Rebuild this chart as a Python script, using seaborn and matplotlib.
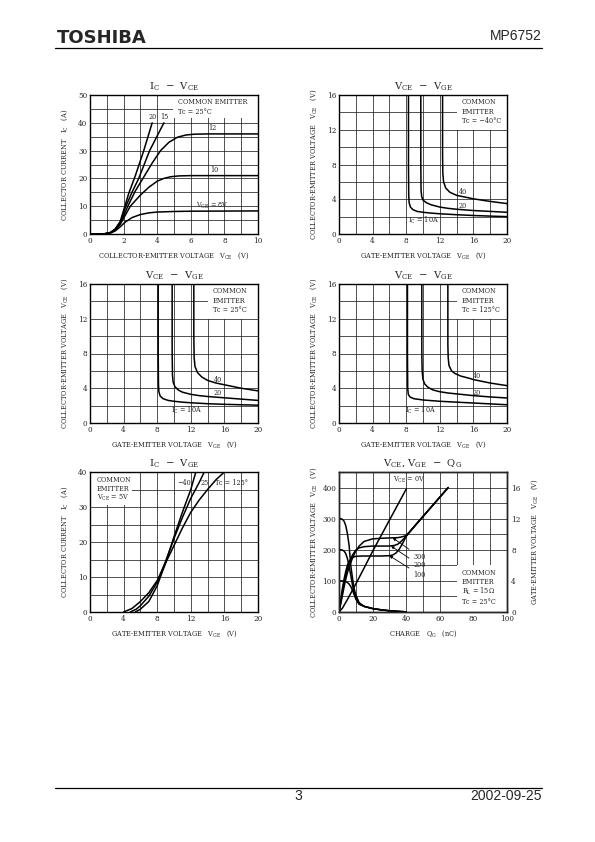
import numpy as np
import pandas as pd
import matplotlib
matplotlib.use('Agg')
import matplotlib.pyplot as plt
import seaborn as sns
from matplotlib.patches import Rectangle
from matplotlib.lines import Line2D

sns.set_style('white')
plt.rcParams['font.family'] = ['DejaVu Serif']
plt.rcParams['mathtext.default'] = 'regular'

# ---- IC - VCE (Tc=25C), one curve per VGE
vce_20 = [0, 0.8, 1.2, 1.5, 1.8, 2.0, 2.3, 2.7, 3.2, 3.7]
ic_20 = [0, 0, 0.5, 1.8, 4.5, 8.5, 14.5, 21, 30, 40]
vce_15 = [0, 0.8, 1.2, 1.5, 1.8, 2.1, 2.5, 2.9, 3.55, 4.4]
ic_15 = [0, 0, 0.5, 1.7, 4.2, 9.5, 15, 20, 30, 40]
vce_12 = [0, 0.8, 1.2, 1.5, 1.8, 2.25, 2.7, 3.2, 3.7, 4.2, 4.7, 5.2, 5.7, 6.2, 7, 8, 10]
ic_12 = [0, 0, 0.4, 1.5, 3.8, 10, 15.5, 20.5, 25.5, 30, 33, 34.8, 35.6, 35.9, 36, 36, 36]
vce_10 = [0, 0.8, 1.2, 1.5, 1.8, 2.4, 3, 3.5, 4, 4.4, 4.8, 5.3, 6, 7, 10]
ic_10 = [0, 0, 0.4, 1.4, 3.5, 10, 14, 16.8, 19, 20, 20.6, 20.9, 21, 21, 21]
vce_8 = [0, 0.8, 1.2, 1.5, 1.8, 2.1, 2.5, 3, 3.5, 4, 5, 6, 10]
ic_8 = [0, 0, 0.3, 1.1, 2.6, 4.3, 5.9, 7.0, 7.6, 7.9, 8.1, 8.2, 8.3]

# ---- VCE - VGE, Tc = -40C
m40_x10 = [8.27, 8.27, 8.3, 8.35, 8.5, 8.8, 9.3, 10, 11, 12, 14, 16, 18, 20]
m40_y10 = [16, 8, 4.5, 3.6, 3.1, 2.8, 2.6, 2.5, 2.4, 2.33, 2.22, 2.13, 2.06, 2.0]
m40_x20 = [9.74, 9.74, 9.77, 9.85, 10, 10.4, 11, 12, 13, 14, 16, 18, 20]
m40_y20 = [16, 8, 5, 4.3, 3.9, 3.6, 3.35, 3.1, 2.95, 2.85, 2.7, 2.6, 2.5]
m40_x40 = [12.33, 12.33, 12.36, 12.45, 12.7, 13.2, 14, 15, 16, 18, 20]
m40_y40 = [16, 9, 7, 6, 5.3, 4.8, 4.45, 4.25, 4.05, 3.75, 3.5]

# ---- VCE - VGE, Tc = 25C
r25_x10 = [8.12, 8.12, 8.15, 8.2, 8.35, 8.7, 9.3, 10, 11, 12, 14, 16, 18, 20]
r25_y10 = [16, 8, 4.5, 3.6, 3.1, 2.8, 2.6, 2.5, 2.4, 2.33, 2.22, 2.15, 2.1, 2.05]
r25_x20 = [9.78, 9.78, 9.82, 9.9, 10.1, 10.5, 11, 12, 13, 14, 16, 18, 20]
r25_y20 = [16, 8, 5.5, 4.7, 4.2, 3.8, 3.55, 3.3, 3.15, 3.05, 2.9, 2.75, 2.6]
r25_x40 = [12.36, 12.36, 12.4, 12.5, 12.8, 13.3, 14, 15, 16, 18, 20]
r25_y40 = [16, 10, 7.5, 6.5, 5.8, 5.3, 4.9, 4.6, 4.4, 4.0, 3.7]

# ---- VCE - VGE, Tc = 125C
h125_x10 = [8.15, 8.15, 8.18, 8.25, 8.45, 8.9, 10, 12, 14, 16, 18, 20]
h125_y10 = [16, 8, 4, 3.3, 3.0, 2.8, 2.65, 2.5, 2.4, 2.3, 2.2, 2.1]
h125_x20 = [9.86, 9.86, 9.9, 10, 10.2, 10.6, 11.2, 12, 13, 14, 16, 18, 20]
h125_y20 = [16, 8, 6, 5, 4.5, 4.1, 3.8, 3.6, 3.45, 3.35, 3.15, 3.0, 2.88]
h125_x40 = [12.96, 12.96, 13.0, 13.1, 13.4, 13.8, 14.5, 15.5, 16, 18, 20]
h125_y40 = [16, 9, 7.5, 6.6, 6.0, 5.7, 5.4, 5.15, 5.0, 4.6, 4.3]

# ---- IC - VGE (VCE=5V)
vge_m40 = [5.4, 6, 7, 8, 9, 10, 11, 12, 12.6]
ic_m40 = [0, 0.8, 3, 7.5, 14, 21.5, 28.5, 35, 40]
vge_25 = [4.8, 5.5, 6, 7, 8, 9, 10, 11, 12, 13, 13.6]
ic_25 = [0, 0.8, 1.8, 4.5, 8.5, 14.5, 21, 27, 32.5, 37, 40]
vge_125 = [4, 5, 6, 7, 8, 9, 10, 11, 12, 13, 14, 15, 16]
ic_125 = [0, 1, 3, 5.5, 9, 14, 19, 24, 28.5, 32, 35, 37.8, 40]

# ---- VCE, VGE - QG (VGE given in left-axis units, 25 per volt)
qg_v0 = [0, 2, 5, 10, 15, 20, 25, 30, 35, 40]
vge_v0 = [0, 12, 40, 90, 142, 195, 245, 295, 345, 395]
qg_g100 = [0, 1, 2, 3, 4, 5, 6, 8, 10, 14, 20, 25, 30, 32, 34, 36, 38, 40, 42, 45, 50, 55, 60, 65]
vge_g100 = [0, 38, 75, 105, 130, 150, 163, 175, 179, 180, 180, 180, 181, 183, 190, 203, 222, 243, 257, 276, 307, 338, 369, 400]
qg_g200 = [0, 1, 2, 3, 4, 5, 6, 8, 10, 12, 15, 20, 25, 30, 33, 35, 37, 39, 40, 42, 45, 50, 55, 60, 65]
vge_g200 = [0, 30, 62, 92, 118, 140, 157, 183, 199, 206, 210, 212, 212, 212, 214, 218, 227, 238, 245, 257, 276, 307, 338, 369, 400]
qg_g300 = [0, 1, 2, 3, 4, 5, 6, 8, 10, 12, 15, 20, 25, 30, 35, 37, 39, 40, 42, 45, 50, 55, 60, 65]
vge_g300 = [0, 25, 52, 80, 105, 126, 144, 173, 196, 212, 227, 235, 237, 238, 239, 241, 244, 247, 257, 276, 307, 338, 369, 400]
qg_c300 = [0, 1, 2, 3, 4, 5, 6, 7, 8, 9, 10, 12, 15, 20, 25, 30, 35, 40]
vce_c300 = [300, 300, 298, 292, 278, 252, 215, 150, 110, 75, 55, 30, 18, 11, 7, 4, 2, 0.5]
qg_c200 = [0, 1, 2, 3, 4, 5, 6, 7, 8, 9, 10, 12, 15, 20, 25, 30, 35, 40]
vce_c200 = [200, 200, 199, 196, 188, 172, 148, 118, 88, 62, 44, 26, 18, 11, 7, 4, 2, 0.5]
qg_c100 = [0, 2, 4, 5, 6, 7, 8, 9, 10, 11, 12, 14, 15, 20, 25, 30, 35, 40]
vce_c100 = [100, 100, 98, 95, 90, 82, 70, 56, 42, 32, 25, 20, 18, 11, 7, 4, 2, 0.5]

fig = plt.figure(figsize=(5.95, 8.42), dpi=100)


def px_axes(l, t, r, b):
    return fig.add_axes([l / 595, 1 - b / 842, (r - l) / 595, (b - t) / 842])


def style(ax, xmax, xmaj, xmin, ymax, ymaj, ymin):
    ax.set_xlim(0, xmax)
    ax.set_ylim(0, ymax)
    ax.set_xticks(np.arange(0, xmax + 0.01, xmaj))
    ax.set_xticks(np.arange(0, xmax + 0.01, xmin), minor=True)
    ax.set_yticks(np.arange(0, ymax + 0.01, ymaj))
    ax.set_yticks(np.arange(0, ymax + 0.01, ymin), minor=True)
    ax.grid(which='both', color='#222222', lw=0.55)
    ax.set_axisbelow(True)
    ax.tick_params(which='both', length=0, pad=2, labelsize=5.2)
    for s in ax.spines.values():
        s.set_visible(True)
        s.set_linewidth(1.0)
        s.set_color('black')


def curve(ax, x, y):
    sns.lineplot(x=x, y=y, ax=ax, color='black', linewidth=1.1, estimator=None, sort=False)


def labels(ax, title, xl, yl):
    ax.set_title(title, fontsize=7.2, y=1 + 8.5 / 139, va='center', pad=0)
    ax.set_xlabel(xl, fontsize=4.8, va='center')
    ax.xaxis.set_label_coords(0.5, -22 / 139)
    ax.set_ylabel(yl, fontsize=4.8, va='center')
    ax.yaxis.set_label_coords(-25 / 168, 0.5)


def whitebox(ax, x0, y0, w, h):
    ax.add_patch(Rectangle((x0, y0), w, h, facecolor='white', edgecolor='none', zorder=1.5))


def note(ax, x, y, s, ha='left'):
    ax.text(x, y, s, fontsize=4.7, ha=ha, va='center', zorder=3)


ic_lbl = 'COLLECTOR CURRENT   I$_C$   (A)'
vce_lbl = 'COLLECTOR-EMITTER VOLTAGE   V$_{CE}$   (V)'
vge_lbl = 'GATE-EMITTER VOLTAGE   V$_{GE}$   (V)'

# panel 1
ax1 = px_axes(90, 95, 258, 234)
style(ax1, 10, 2, 1, 50, 10, 5)
for x, y in [(vce_20, ic_20), (vce_15, ic_15), (vce_12, ic_12), (vce_10, ic_10), (vce_8, ic_8)]:
    curve(ax1, x, y)
whitebox(ax1, 4.95, 41.6, 5.05, 8.4)
note(ax1, 5.25, 47.4, 'COMMON EMITTER')
note(ax1, 5.25, 43.8, 'Tc = 25°C')
note(ax1, 3.72, 42.2, '20', ha='center')
note(ax1, 4.4, 42.2, '15', ha='center')
note(ax1, 7.3, 38.0, '12', ha='center')
note(ax1, 7.4, 23.0, '10', ha='center')
note(ax1, 7.3, 10.0, 'V$_{GE}$ = 8V', ha='center')
labels(ax1, 'I$_C$  −  V$_{CE}$', 'COLLECTOR-EMITTER VOLTAGE   V$_{CE}$   (V)', ic_lbl)

# panels 2-4
vv_panels = [
    ((339, 95, 507, 234), 'Tc = −40°C', [(m40_x10, m40_y10), (m40_x20, m40_y20), (m40_x40, m40_y40)],
     [(14.7, 4.8), (14.7, 3.25), (10.1, 1.55)]),
    ((90, 284, 258, 423), 'Tc = 25°C', [(r25_x10, r25_y10), (r25_x20, r25_y20), (r25_x40, r25_y40)],
     [(15.25, 4.9), (15.25, 3.45), (11.5, 1.5)]),
    ((339, 284, 507, 423), 'Tc = 125°C', [(h125_x10, h125_y10), (h125_x20, h125_y20), (h125_x40, h125_y40)],
     [(16.4, 5.4), (16.4, 3.5), (9.7, 1.5)]),
]
for pos, tc, curves, lpos in vv_panels:
    ax = px_axes(*pos)
    style(ax, 20, 4, 2, 16, 4, 2)
    for x, y in curves:
        curve(ax, x, y)
    whitebox(ax, 14.0, 12.0, 6.0, 4.0)
    note(ax, 14.6, 15.15, 'COMMON')
    note(ax, 14.6, 14.05, 'EMITTER')
    note(ax, 14.6, 12.95, tc)
    note(ax, lpos[0][0], lpos[0][1], '40', ha='center')
    note(ax, lpos[1][0], lpos[1][1], '20', ha='center')
    note(ax, lpos[2][0], lpos[2][1], 'I$_C$ = 10A', ha='center')
    labels(ax, 'V$_{CE}$  −  V$_{GE}$', vge_lbl, vce_lbl)

# panel 5
ax5 = px_axes(90, 472, 258, 612)
style(ax5, 20, 4, 2, 40, 10, 5)
for x, y in [(vge_m40, ic_m40), (vge_25, ic_25), (vge_125, ic_125)]:
    curve(ax5, x, y)
whitebox(ax5, 0, 30.6, 4.95, 9.4)
note(ax5, 0.8, 37.8, 'COMMON')
note(ax5, 0.8, 35.2, 'EMITTER')
note(ax5, 0.8, 32.5, 'V$_{CE}$ = 5V')
note(ax5, 11.2, 36.8, '−40', ha='center')
note(ax5, 13.7, 36.8, '25', ha='center')
note(ax5, 16.8, 36.8, 'Tc = 125°', ha='center')
labels(ax5, 'I$_C$  −  V$_{GE}$', vge_lbl, ic_lbl)

# panel 6
ax6 = px_axes(339, 472, 507, 612)
style(ax6, 100, 20, 10, 450, 100, 50)
ax6.set_yticks([0, 100, 200, 300, 400])
for x, y in [(qg_c300, vce_c300), (qg_c200, vce_c200), (qg_c100, vce_c100),
             (qg_v0, vge_v0), (qg_g100, vge_g100), (qg_g200, vge_g200), (qg_g300, vge_g300)]:
    curve(ax6, x, y)
whitebox(ax6, 70.2, 0, 29.8, 150)
note(ax6, 73, 124, 'COMMON')
note(ax6, 73, 95, 'EMITTER')
note(ax6, 73, 65, 'R$_L$ = 15Ω')
note(ax6, 73, 33, 'Tc = 25°C')
note(ax6, 42, 423, 'V$_{CE}$ = 0V', ha='center')
for lab, tip, txt in [('300', (32, 238), (48, 178)), ('200', (31, 212), (48, 150)), ('100', (30, 181), (48, 120))]:
    ax6.annotate(lab, xy=tip, xytext=txt, fontsize=4.7, ha='center', va='center', zorder=3,
                 arrowprops=dict(arrowstyle='-|>', lw=0.6, color='black', mutation_scale=4, shrinkA=1, shrinkB=0))
labels(ax6, 'V$_{CE}$, V$_{GE}$  −  Q$_G$', 'CHARGE   Q$_G$   (nC)', vce_lbl)
ax6r = ax6.twinx()
ax6r.set_ylim(0, 18)
ax6r.set_yticks([0, 4, 8, 12, 16])
ax6r.tick_params(length=0, pad=3, labelsize=5.2)
ax6r.grid(False)
ax6r.set_ylabel(vge_lbl, fontsize=4.8, rotation=90, va='center')
ax6r.yaxis.set_label_coords(1 + 28 / 168, 0.5)
for s in ax6r.spines.values():
    s.set_linewidth(1.0)

# page header / footer
fig.text(57 / 595, 1 - 42.7 / 842, 'TOSHIBA', family='DejaVu Sans', weight='heavy', fontsize=13, va='baseline')
fig.text(541.7 / 595, 1 - 40 / 842, 'MP6752', family='Liberation Sans', fontsize=10, ha='right', va='baseline')
fig.add_artist(Line2D([55 / 595, 541.7 / 595], [1 - 47.7 / 842] * 2, color='black', lw=0.9))
fig.add_artist(Line2D([55 / 595, 541.7 / 595], [1 - 788.3 / 842] * 2, color='black', lw=0.9))
fig.text(298 / 595, 1 - 800 / 842, '3', family='Liberation Sans', fontsize=10, ha='center', va='baseline')
fig.text(541.7 / 595, 1 - 800 / 842, '2002-09-25', family='Liberation Sans', fontsize=10, ha='right', va='baseline')

fig.savefig('out.png', dpi=100)
